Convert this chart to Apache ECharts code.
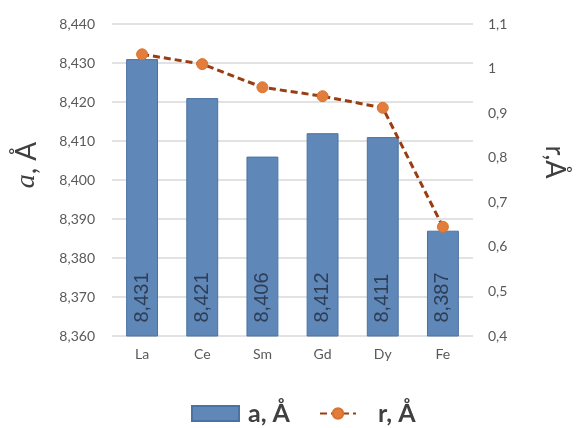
<!DOCTYPE html>
<html><head><meta charset="utf-8">
<script src="https://cdn.jsdelivr.net/npm/echarts@6/dist/echarts.min.js"></script>
<style>html,body{margin:0;padding:0;background:#fff}#c{width:576px;height:428px}</style>
</head><body><div id="c"></div>
<script>
const categories = ['La', 'Ce', 'Sm', 'Gd', 'Dy', 'Fe'];
const latticeA = [8.431, 8.421, 8.406, 8.412, 8.411, 8.387];
const radiusR = [1.032, 1.01, 0.958, 0.938, 0.912, 0.645];
const leftTicks = { min: 8.36, max: 8.44, interval: 0.01 };
const rightTicks = { min: 0.4, max: 1.1, interval: 0.1 };

const fmtComma = (v, d) => v.toFixed(d).replace('.', ',');
const chart = echarts.init(document.getElementById('c'));
const legendText = { fontSize: 25, color: '#404040', fontWeight: 'bold', fontFamily: 'Lato, sans-serif' };
chart.setOption({
  animation: false,
  textStyle: { fontFamily: 'Lato, "Open Sans", sans-serif' },
  grid: { left: 112, right: 88, top: 24, bottom: 92 },
  legend: [
    { data: [{ name: 'a, Å', icon: 'rect' }], left: 186, top: 396, itemWidth: 47, itemHeight: 15,
      textStyle: Object.assign({ padding: [0, 0, 0, 4] }, legendText) },
    { data: ['r, Å'], left: 314, top: 396, itemWidth: 36, itemHeight: 13,
      textStyle: Object.assign({ padding: [0, 0, 0, 17] }, legendText) }
  ],
  xAxis: {
    type: 'category', data: categories,
    axisLine: { show: false }, axisTick: { show: false },
    axisLabel: { color: '#595959', fontSize: 14, margin: 11 }
  },
  yAxis: [
    {
      type: 'value', min: leftTicks.min, max: leftTicks.max, interval: leftTicks.interval,
      name: '{i|a}{n|, Å}', nameLocation: 'middle', nameGap: 71, nameRotate: 90,
      nameTextStyle: { padding: [0, 0, 0, 30], rich: {
        i: { fontSize: 28, fontStyle: 'italic', color: '#404040', fontFamily: 'Liberation Serif, serif' },
        n: { fontSize: 28, color: '#404040', fontFamily: 'Lato, sans-serif' } } },
      axisLine: { show: false }, axisTick: { show: false },
      axisLabel: { color: '#595959', fontSize: 14, margin: 17, formatter: v => fmtComma(v, 3) },
      splitLine: { lineStyle: { color: '#d9d9d9', width: 1.5 } }
    },
    {
      type: 'value', min: rightTicks.min, max: rightTicks.max, interval: rightTicks.interval,
      name: 'r,Å', nameLocation: 'middle', nameGap: 68, nameRotate: -90,
      nameTextStyle: { fontSize: 27, color: '#404040', padding: [0, 36, 0, 0] },
      axisLine: { show: false }, axisTick: { show: false },
      axisLabel: { color: '#595959', fontSize: 14, margin: 15,
        formatter: v => { const r = Math.round(v * 10) / 10; return Number.isInteger(r) ? String(r) : fmtComma(r, 1); } },
      splitLine: { show: false }
    }
  ],
  series: [
    {
      name: 'a, Å', type: 'bar', data: latticeA, yAxisIndex: 0,
      barCategoryGap: '47%',
      itemStyle: { color: '#5f87b8', borderColor: '#4a72a4', borderWidth: 1 },
      label: {
        show: true, position: 'insideBottom', rotate: 90, distance: 14,
        align: 'left', verticalAlign: 'middle',
        color: '#2e3e56', fontSize: 20, fontFamily: 'Liberation Sans, Arial, sans-serif',
        formatter: p => fmtComma(p.value, 3)
      }
    },
    {
      name: 'r, Å', type: 'line', data: radiusR, yAxisIndex: 1,
      symbol: 'circle', symbolSize: 11,
      lineStyle: { color: '#993d12', width: 3, type: [7, 4] },
      itemStyle: { color: '#e27d3c', borderColor: '#d9732f', borderWidth: 1 },
      z: 5
    }
  ]
});
</script></body></html>
